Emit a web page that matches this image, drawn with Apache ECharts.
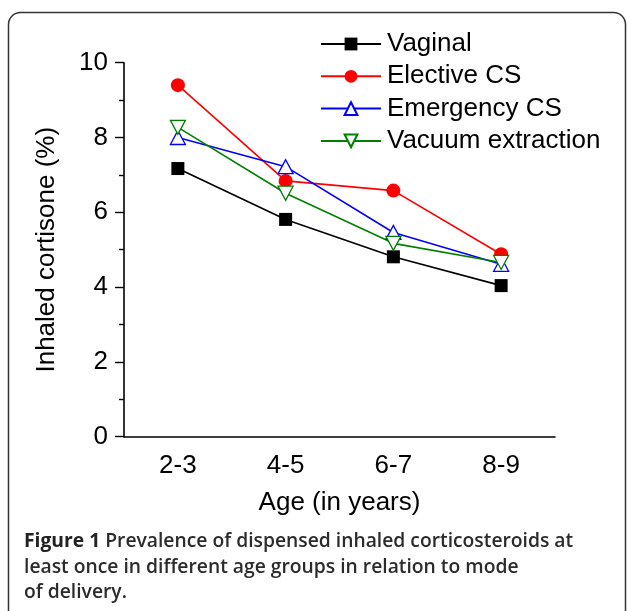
<!DOCTYPE html>
<html>
<head>
<meta charset="utf-8">
<script src="https://cdn.jsdelivr.net/npm/echarts@6/dist/echarts.min.js"></script>
<style>
html,body{margin:0;padding:0;background:#fff;}
#c{width:629px;height:611px;}
</style>
</head>
<body>
<div id="c"></div>
<script>
const categories = ['2-3', '4-5', '6-7', '8-9'];
const vaginal = [7.17, 5.81, 4.81, 4.04];
const electiveCS = [9.40, 6.84, 6.58, 4.88];
const emergencyCS = [8.00, 7.22, 5.46, 4.61];
const vacuumExtraction = [8.27, 6.51, 5.17, 4.66];
const yTicks = [0, 2, 4, 6, 8, 10];
const seriesNames = ['Vaginal', 'Elective CS', 'Emergency CS', 'Vacuum extraction'];

const chart = echarts.init(document.getElementById('c'), null, {renderer: 'canvas'});
const font = '"Liberation Sans", Arial, sans-serif';
const capFont = '"Open Sans", "Noto Sans", sans-serif';
const downTri = 'path://M0,0L10,0L5,9Z';
const upTri = 'path://M5,0L10,9L0,9Z';

function mk(name, data, color, symbol, size, fill) {
  return {
    name: name, type: 'line', data: data,
    symbol: symbol, symbolSize: size,
    showAllSymbol: true,
    lineStyle: {color: color, width: 1.6},
    itemStyle: {color: fill, borderColor: color, borderWidth: fill === '#fff' ? 1.3 : 0},
    emphasis: {disabled: true},
    animation: false
  };
}

chart.setOption({
  animation: false,
  backgroundColor: '#fff',
  grid: {left: 124, right: 74, top: 62.7, bottom: 174.3, containLabel: false},
  legend: {
    orient: 'vertical', left: 315, top: 26,
    itemWidth: 60, itemHeight: 16, itemGap: 6.3,
    textStyle: {fontFamily: font, fontSize: 26, color: '#000', padding: [0, 0, 0, 1]},
    data: seriesNames
  },
  xAxis: {
    type: 'category', data: categories, boundaryGap: true,
    axisLine: {lineStyle: {color: '#000', width: 1.6}},
    axisTick: {alignWithLabel: true, length: 10, lineStyle: {color: '#000', width: 1.4}},
    axisLabel: {fontFamily: font, fontSize: 26, color: '#000', margin: 16},
    name: 'Age (in years)', nameLocation: 'middle', nameGap: 53,
    nameTextStyle: {fontFamily: font, fontSize: 26, color: '#000'}
  },
  yAxis: {
    type: 'value', min: yTicks[0], max: yTicks[yTicks.length - 1], interval: 2,
    axisLine: {show: true, lineStyle: {color: '#000', width: 1.6}},
    axisTick: {show: true, inside: false, length: 9, lineStyle: {color: '#000', width: 1.4}},
    minorTick: {show: true, splitNumber: 2, length: 5, lineStyle: {color: '#000', width: 1.4}},
    splitLine: {show: false},
    axisLabel: {fontFamily: font, fontSize: 26, color: '#000', margin: 16},
    name: 'Inhaled cortisone (%)', nameLocation: 'middle', nameGap: 64, nameRotate: 90,
    nameTextStyle: {fontFamily: font, fontSize: 26, color: '#000'}
  },
  series: [
    mk(seriesNames[0], vaginal, '#000', 'rect', 13, '#000'),
    mk(seriesNames[1], electiveCS, '#ff0000', 'circle', 14, '#ff0000'),
    mk(seriesNames[2], emergencyCS, '#0000ff', upTri, [15, 14], '#fff'),
    mk(seriesNames[3], vacuumExtraction, '#008000', downTri, [15, 14], '#fff')
  ],
  graphic: [
    {type: 'rect', shape: {x: 8.5, y: 12.5, width: 617, height: 640, r: 12},
     style: {fill: 'none', stroke: '#333', lineWidth: 1.5}, silent: true},
    {type: 'text', left: 24, top: 529,
     style: {
       text: '{b|Figure 1} Prevalence of dispensed inhaled corticosteroids at\nleast once in different age groups in relation to mode\nof delivery.',
       fontFamily: capFont, fontSize: 19.3, fontWeight: 600, fill: '#2b2b2b',
       lineHeight: 25.5,
       rich: {b: {fontFamily: capFont, fontSize: 19.3, fontWeight: 'bold', fill: '#222', lineHeight: 25.5}}
     }}
  ]
});
</script>
</body>
</html>
